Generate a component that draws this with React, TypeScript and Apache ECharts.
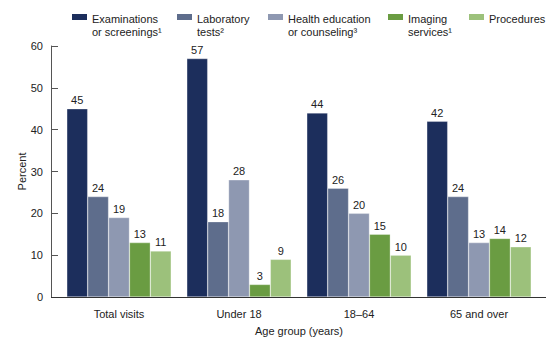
import React, { useEffect, useRef } from "react";
import * as echarts from "echarts";

const categories = ["Total visits", "Under 18", "18\u201364", "65 and over"];
const seriesNames = ["Examinations", "Laboratory", "Health education", "Imaging", "Procedures"];
const legendLabels = [
  "Examinations\nor screenings\u00b9",
  "Laboratory\ntests\u00b2",
  "Health education\nor counseling\u00b3",
  "Imaging\nservices\u00b9",
  "Procedures\n ",
];
const examinations = [45, 57, 44, 42];
const laboratory = [24, 18, 26, 24];
const healthEducation = [19, 28, 20, 13];
const imaging = [13, 3, 15, 14];
const procedures = [11, 9, 10, 12];
const yTicks = [0, 10, 20, 30, 40, 50, 60];

const colors = ["#1c2e5c", "#5e6d8c", "#8e98b1", "#6a9c42", "#9cc17b"];
const legendLeft = [72, 177, 268, 388, 469];
const FONT = "'Liberation Sans', Arial, sans-serif";

export default function App() {
  const ref = useRef<HTMLDivElement>(null);
  useEffect(() => {
    if (!ref.current) return;
    const chart = echarts.init(ref.current, null, { renderer: "svg" });
    const values = [examinations, laboratory, healthEducation, imaging, procedures];
    const iconPath = "path://M0 2H15V8H0Z M0 0L0.01 0 M0 26L0.01 26";
    chart.setOption({
      animation: false,
      textStyle: { fontFamily: FONT },
      color: colors,
      legend: seriesNames.map((n, i) => ({
        data: [n],
        left: legendLeft[i],
        top: 12,
        padding: 0,
        itemWidth: 15,
        itemHeight: 26,
        itemGap: 0,
        icon: iconPath,
        itemStyle: { borderWidth: 0 },
        selectedMode: false,
        textStyle: { fontSize: 11, color: "#222", fontFamily: FONT, lineHeight: 13 },
        formatter: () => legendLabels[i],
      })),
      grid: { left: 59, right: 21, top: 46, bottom: 47 },
      xAxis: {
        type: "category",
        data: categories,
        axisLine: { show: false },
        axisTick: { show: false },
        axisLabel: { fontSize: 11, color: "#222", margin: 11, fontFamily: FONT },
        name: "Age group (years)",
        nameLocation: "middle",
        nameGap: 28,
        nameMoveOverlap: false,
        nameTextStyle: { fontSize: 11, color: "#222", fontFamily: FONT },
      },
      yAxis: {
        type: "value",
        min: yTicks[0],
        max: yTicks[yTicks.length - 1],
        interval: 10,
        offset: 8,
        axisLine: { show: true, lineStyle: { color: "#555", width: 1 } },
        axisTick: { show: true, inside: true, length: 7, lineStyle: { color: "#555" } },
        splitLine: { show: false },
        axisLabel: { fontSize: 11, color: "#222", margin: 8, fontFamily: FONT },
        name: "Percent",
        nameLocation: "middle",
        nameGap: 24,
        nameRotate: 90,
        nameMoveOverlap: false,
        nameTextStyle: { fontSize: 11, color: "#222", fontFamily: FONT },
      },
      graphic: [
        {
          type: "line",
          shape: { x1: 51, y1: 297.5, x2: 546, y2: 297.5 },
          style: { stroke: "#333", lineWidth: 1 },
          z: 10,
        },
      ],
      series: seriesNames.map((n, i) => ({
        name: n,
        type: "bar",
        data: values[i],
        barGap: "0%",
        barCategoryGap: "13%",
        itemStyle: { color: colors[i], borderColor: "rgba(255,255,255,0.6)", borderWidth: 0.5 },
        label: {
          show: true,
          position: "top",
          distance: 3,
          fontSize: 11,
          color: "#222",
          fontFamily: FONT,
        },
      })),
    });
    return () => chart.dispose();
  }, []);
  return (
    <div
      ref={ref}
      style={{ position: "absolute", left: 0, top: 0, width: 560, height: 344 }}
    />
  );
}
